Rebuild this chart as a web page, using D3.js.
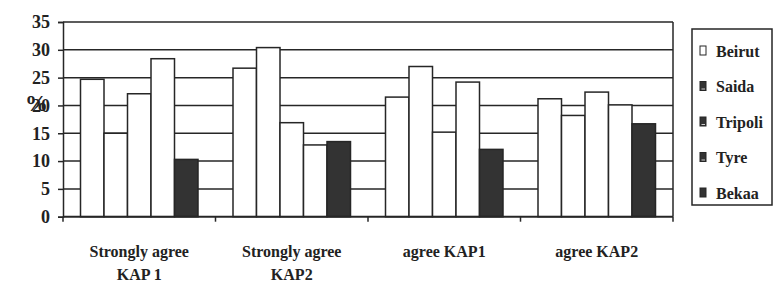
<!DOCTYPE html>
<html>
<head>
<meta charset="utf-8">
<script src="https://cdn.jsdelivr.net/npm/d3@7"></script>
<style>
  body { margin: 0; background: #fff; }
  svg text { font-family: "Liberation Serif", "Times New Roman", serif; font-weight: bold; fill: #222; }
</style>
</head>
<body>
<svg id="mount" width="773" height="283"></svg>
<script>
var categories = [["Strongly agree", "KAP 1"], ["Strongly agree", "KAP2"], ["agree KAP1"], ["agree KAP2"]];
var seriesNames = ["Beirut", "Saida", "Tripoli", "Tyre", "Bekaa"];
var beirut = [24.7, 26.7, 21.5, 21.2];
var saida = [15.0, 30.4, 27.0, 18.2];
var tripoli = [22.1, 16.9, 15.2, 22.4];
var tyre = [28.4, 12.9, 24.2, 20.1];
var bekaa = [10.3, 13.5, 12.1, 16.7];
var yTicks = [0, 5, 10, 15, 20, 25, 30, 35];

var seriesValues = [beirut, saida, tripoli, tyre, bekaa];
var barFill = ["#fff", "#fff", "#fff", "#fff", "#333"];
var ink = "#262626";
var serif = "'Liberation Serif', 'Times New Roman', serif";

var svg = d3.select("#mount");
var plotLeft = 63, plotRight = 673, plotTop = 22, plotBottom = 216.7;

var x0 = d3.scaleBand().domain(d3.range(categories.length)).range([plotLeft, plotRight]);
var x1 = d3.scaleBand().domain(seriesNames).range([17.5, 135]);
var y = d3.scaleLinear().domain([0, 35]).range([plotBottom, plotTop]);

// grid lines behind the bars
svg.append("g")
  .selectAll("line")
  .data(yTicks.filter(function(t) { return t > 0; }))
  .join("line")
  .attr("x1", plotLeft).attr("x2", plotRight)
  .attr("y1", function(d) { return y(d); })
  .attr("y2", function(d) { return y(d); })
  .attr("stroke", ink).attr("stroke-width", 1.5);

// right border
svg.append("line")
  .attr("x1", plotRight).attr("x2", plotRight)
  .attr("y1", plotTop).attr("y2", plotBottom)
  .attr("stroke", ink).attr("stroke-width", 1.5);

// bars
var groups = svg.append("g")
  .selectAll("g")
  .data(categories)
  .join("g")
  .attr("transform", function(d, i) { return "translate(" + x0(i) + ",0)"; });

groups.selectAll("rect")
  .data(function(d, i) {
    return seriesNames.map(function(name, s) {
      return { name: name, s: s, value: seriesValues[s][i] };
    });
  })
  .join("rect")
  .attr("x", function(d) { return x1(d.name); })
  .attr("width", x1.bandwidth())
  .attr("y", function(d) { return y(d.value); })
  .attr("height", function(d) { return plotBottom - y(d.value); })
  .attr("fill", function(d) { return barFill[d.s]; })
  .attr("stroke", ink)
  .attr("stroke-width", 1.5);

// y axis
var yAxis = svg.append("g")
  .attr("transform", "translate(" + plotLeft + ",0)")
  .call(d3.axisLeft(y).tickValues(yTicks).tickSize(5).tickPadding(8));
yAxis.select(".domain").attr("stroke", ink).attr("stroke-width", 1.5);
yAxis.selectAll(".tick line").attr("stroke", ink).attr("stroke-width", 1.5);
yAxis.selectAll(".tick text")
  .style("font-family", serif)
  .style("font-weight", "bold")
  .style("font-size", "18px")
  .attr("fill", ink);

// x axis with ticks at the group edges
var xEdges = d3.range(categories.length + 1).map(function(i) { return plotLeft + i * x0.bandwidth(); });
svg.append("line")
  .attr("x1", plotLeft).attr("x2", plotRight)
  .attr("y1", plotBottom).attr("y2", plotBottom)
  .attr("stroke", ink).attr("stroke-width", 2);
svg.append("g")
  .selectAll("line")
  .data(xEdges)
  .join("line")
  .attr("x1", function(d) { return d; })
  .attr("x2", function(d) { return d; })
  .attr("y1", plotBottom).attr("y2", plotBottom + 5)
  .attr("stroke", ink).attr("stroke-width", 1.5);

// category labels
svg.append("g")
  .selectAll("text")
  .data(categories)
  .join("text")
  .attr("text-anchor", "middle")
  .style("font-family", serif)
  .style("font-size", "16px")
  .each(function(d, i) {
    var t = d3.select(this);
    d.forEach(function(line, k) {
      t.append("tspan")
        .attr("x", x0(i) + x0.bandwidth() / 2)
        .attr("y", 257 + k * 23)
        .text(line);
    });
  });

// y title
svg.append("text")
  .attr("x", 25)
  .attr("y", 111)
  .style("font-family", serif)
  .style("font-size", "23px")
  .text("%");

// legend
var legend = svg.append("g");
legend.append("rect")
  .attr("x", 692).attr("y", 29)
  .attr("width", 80).attr("height", 176)
  .attr("fill", "#fff")
  .attr("stroke", ink).attr("stroke-width", 1.5);

var items = legend.selectAll("g")
  .data(seriesNames)
  .join("g")
  .attr("transform", function(d, i) { return "translate(0," + (51 + i * 35.5) + ")"; });

items.append("rect")
  .attr("x", 700).attr("y", -5)
  .attr("width", 6).attr("height", 9)
  .attr("fill", function(d, i) { return i === 0 ? "#fff" : "#333"; })
  .attr("stroke", ink).attr("stroke-width", 1);

items.filter(function(d, i) { return i > 0 && i < 4; })
  .append("line")
  .attr("x1", 701.5).attr("x2", 705)
  .attr("y1", 2.5).attr("y2", 2.5)
  .attr("stroke", "#ccc").attr("stroke-width", 1);

items.append("text")
  .attr("x", 716)
  .attr("y", 5.5)
  .style("font-family", serif)
  .style("font-size", "16px")
  .text(function(d) { return d; });
</script>
</body>
</html>
